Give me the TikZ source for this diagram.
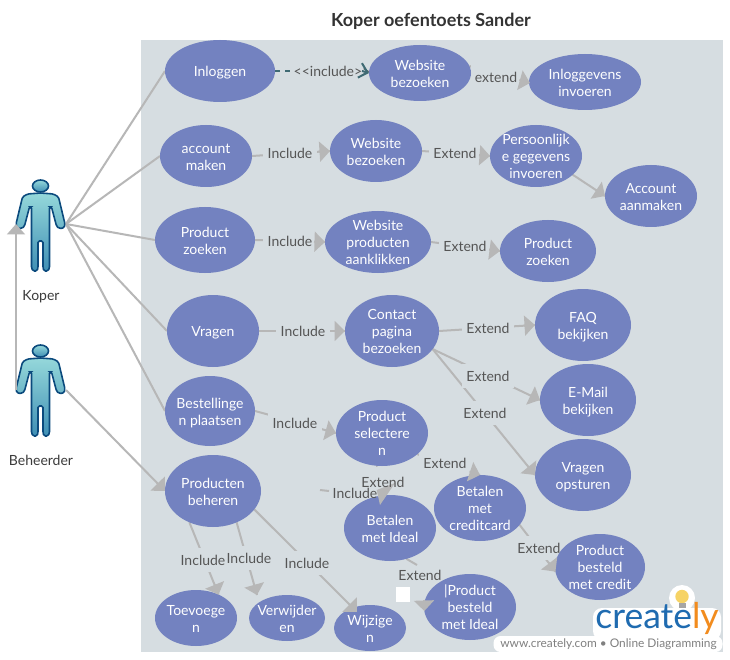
\documentclass[tikz,border=0pt]{standalone}
\usepackage{fontspec}
\setmainfont{Lato}
\usetikzlibrary{arrows.meta,shapes.geometric,calc,backgrounds}
\definecolor{panel}{HTML}{D6DDE1}
\definecolor{ucfill}{HTML}{7382C0}
\definecolor{conn}{HTML}{B7B7B7}
\definecolor{lab}{HTML}{555555}
\definecolor{dashc}{HTML}{3F6A73}
\definecolor{actline}{HTML}{0B4A7D}
\definecolor{acttop}{HTML}{95D8DA}
\definecolor{actbot}{HTML}{3F8FB5}
\definecolor{logob}{HTML}{1F6BB0}
\definecolor{logoo}{HTML}{F28C1E}
\definecolor{bulb}{HTML}{F6D365}
\tikzset{
 every node/.style={font=\fontsize{14}{17}\selectfont},
 ucase/.style={ellipse,fill=ucfill,text=white,inner sep=0pt,outer sep=0pt},
 lblp/.style={text=lab,inner sep=1pt},
 rel/.style={draw=conn,line width=2pt,-{Triangle[length=10.5pt,width=20pt,fill=conn]}},
 plain/.style={draw=conn,line width=2pt},
 actor/.pic={
  \path[top color=acttop,bottom color=actbot,draw=actline,line width=1.6pt]
   (0,-7) ellipse [x radius=8,y radius=6];
  \path[top color=acttop,bottom color=actbot,draw=actline,line width=1.6pt,rounded corners=1.5pt]
   (0,0) -- (13,1) -- (18,4) -- (24.5,31) -- (23.5,35) -- (18.5,35.5) -- (16,33) -- (11,14) -- (9,14)
   -- (9,75) -- (7.5,78) -- (3.5,78) -- (2.5,75) -- (2.5,48) -- (-2.5,48) -- (-2.5,75) -- (-3.5,78) -- (-7.5,78)
   -- (-9,75) -- (-9,14) -- (-11,14) -- (-16,33) -- (-18.5,35.5) -- (-23.5,35) -- (-24.5,31) -- (-18,4) -- (-13,1) -- cycle;
 }
}
\newcommand\UC[6]{\node[ucase,minimum width=#4*2pt,minimum height=#5*2pt] (#1) at (#2,#3)
 {\smash{\makebox[0pt]{\raisebox{-6pt}{\begin{tabular}{@{}c@{}}#6\end{tabular}}}}};}
\newcommand\Lab[4]{\node[lblp] (#1) at (#2,#3) {#4};
 \begin{pgfonlayer}{background}\fill[panel] ($(#1.south west)+(-3,6)$) rectangle ($(#1.north east)+(3,-6)$);\end{pgfonlayer}}
\newcommand\Conn[2]{\begin{pgfonlayer}{background}\draw[plain] (#1) -- (#2);\end{pgfonlayer}}
\newcommand\Head[2]{\draw[rel] ($(#2)!11pt!(#1)$) -- (#2);}
\begin{document}
\begin{tikzpicture}[x=1pt,y=-1pt]
\useasboundingbox (0,0) rectangle (730,660);
\begin{pgfonlayer}{background}
\fill[white] (0,0) rectangle (730,660);
\fill[panel] (141,40) rectangle (723,652);
\end{pgfonlayer}
\node[font=\fontsize{18}{20}\bfseries\selectfont,text=black!80] (title) at (431,21) {Koper oefentoets Sander};

\UC{inl}{220}{71}{55}{31}{Inloggen}
\UC{web}{420}{73}{51}{28}{Website\\bezoeken}
\UC{inv}{585}{82}{56}{28}{Inloggevens\\invoeren}
\UC{acc}{206}{156}{46}{31}{account\\maken}
\UC{webb}{376}{151}{46}{31}{Website\\bezoeken}
\UC{per}{536}{156}{46}{31}{Persoonlijk\\e gegevens\\invoeren}
\UC{aan}{651}{196}{46}{31}{Account\\aanmaken}
\UC{zoe}{205}{240}{50}{33}{Product\\zoeken}
\UC{wpr}{378}{242}{53}{31}{Website\\producten\\aanklikken}
\UC{zoeb}{548}{251}{48}{31}{Product\\zoeken}
\UC{vra}{213}{331}{46}{36}{Vragen}
\UC{con}{392}{331}{47}{36}{Contact\\pagina\\bezoeken}
\UC{faq}{583}{325}{48}{36}{FAQ\\bekijken}
\UC{mail}{588}{400}{48}{36}{E-Mail\\bekijken}
\UC{bes}{210}{411}{45}{35}{Bestellinge\\n plaatsen}
\UC{sel}{382}{433}{46}{33}{Product\\selectere\\n}
\UC{ops}{583}{475}{48}{36}{Vragen\\opsturen}
\UC{beh}{213}{491}{48}{36}{Producten\\beheren}
\UC{cre}{480}{508}{46}{33}{Betalen\\met\\creditcard}
\UC{ide}{390}{528}{46}{33}{Betalen\\met Ideal}
\UC{bcr}{600}{567}{45}{33}{Product\\besteld\\met credit}
\UC{bid}{470}{607}{46}{33}{|Product\\besteld\\met Ideal}
\UC{toe}{196}{618}{41}{28}{Toevoege\\n}
\UC{ver}{287}{618}{38}{23}{Verwijder\\en}
\UC{wij}{370}{628}{36}{23}{Wijzige\\n}

% actors
\pic at (40.5,193) {actor};
\pic at (40.5,358) {actor};
\node[text=lab!70!black] (kop) at (41,297) {Koper};
\node[text=lab!70!black] (bhd) at (41,460) {Beheerder};
\coordinate (kh) at (66,224);
\coordinate (bh) at (66,390);
\coordinate (kl) at (16,224);
\coordinate (bl) at (16,390);
\coordinate (d1) at (291,71);
\coordinate (d2) at (362,71);
\coordinate (invt) at (530,83);
\coordinate (i1) at (320,490);
\coordinate (i2) at (329,491);
\coordinate (s1) at (376,466);
\coordinate (ha) at (376.7,490);
\coordinate (hb) at (395,483);
\coordinate (hc) at (380,505);
\coordinate (e1) at (417,565);
\coordinate (bt) at (424,600);
\coordinate (vt) at (257,595);
\coordinate (wt) at (357,612);

% lines below the ellipses
\Conn{kh}{inl.west}
\Conn{kh}{acc.west}
\Conn{kh}{zoe.west}
\Conn{kh}{vra.west}
\Conn{kh}{bes.west}
\begin{pgfonlayer}{background}
\draw[dashc,line width=2pt,dash pattern=on 5pt off 5pt] (inl.east) -- (d1);
\end{pgfonlayer}
\Conn{web.8}{invt}
\Conn{acc.east}{webb.west}
\Conn{webb.east}{per.west}
\Conn{per.-27}{aan.west}
\Conn{zoe.east}{wpr.west}
\Conn{wpr.east}{zoeb.west}
\Conn{vra.east}{con.west}
\Conn{con.east}{faq.west}
\Conn{con.-24}{mail.west}
\Conn{con.-24}{ops.west}
\Conn{bes.east}{sel.west}
\Conn{sel.-31}{cre.north}
\Conn{cre.-23}{bcr.186}
\Conn{beh.-127}{toe.46}
\Conn{beh.-53}{vt}
\Conn{beh.-24}{wt}
\Conn{i1}{i2}
\Conn{sel.-98}{s1}
\Conn{ide.-62}{e1}

% labels
\node[lblp] (l1) at (332,71) {<{}<include>{}>};
\Lab{l2}{496}{77}{extend}
\Lab{l3}{290}{153}{Include}
\Lab{l4}{455}{153}{Extend}
\Lab{l5}{290}{241}{Include}
\Lab{l6}{465}{246}{Extend}
\Lab{l7}{303}{331}{Include}
\Lab{l8}{488}{328}{Extend}
\Lab{l9}{488}{376}{Extend}
\Lab{l10}{485}{413}{Extend}
\Lab{l11}{295}{423}{Include}
\Lab{l12}{445}{463}{Extend}
\Lab{l15}{539}{548}{Extend}
\Lab{l17}{203}{560}{Include}
\Lab{l18}{249}{558}{Include}
\Lab{l19}{307}{563}{Include}

% arrow heads above the ellipses
\draw[draw=conn,line width=2pt,-{Triangle[length=10.5pt,width=18pt,fill=conn]}] (bl) -- (kl);
\draw[rel] (bh) -- (beh.west);
\draw[dashc,line width=2pt,-{Straight Barb[length=8pt,width=15pt]}] (d2) -- (web.west);
\Head{web.8}{invt}
\Head{acc.east}{webb.west}
\Head{webb.east}{per.west}
\Head{per.-27}{aan.west}
\Head{zoe.east}{wpr.west}
\Head{wpr.east}{zoeb.west}
\Head{vra.east}{con.west}
\Head{con.east}{faq.west}
\Head{con.-24}{mail.west}
\Head{con.-24}{ops.west}
\Head{bes.east}{sel.west}
\Head{sel.-31}{cre.north}
\Head{cre.-23}{bcr.186}
\Head{beh.-127}{toe.46}
\Head{beh.-53}{vt}
\Head{beh.-24}{wt}
\fill[conn] (ha) -- (hb) -- (hc) -- cycle;
\node[lblp] (l13) at (355,493) {Include};
\node[lblp] (l14) at (383,482) {Extend};
\node[lblp] (l16) at (420,575) {Extend};
\draw[rel] (bt) -- (bid.185);
\node[fill=white,inner sep=0pt,minimum size=14.5pt] (sq) at (403,594.5) {};

% logo
\fill[white] (682,598) circle (13);
\fill[white,rounded corners=9pt] (593,608) rectangle (721,640);
\node[fill=white,rounded corners=7pt,inner sep=0pt,minimum width=229pt,minimum height=16pt] (www) at (608,644) {};
\node[text=lab!75,inner sep=0pt,font=\fontsize{11.9}{14}\selectfont] (wwt) at (608.5,644) {www.creately.com • Online Diagramming};
\fill[bulb] (682,596.5) circle (6.7);
\fill[gray!70] (678.5,603) rectangle (685.5,608);
\node[anchor=base,inner sep=0pt,font=\fontsize{35.5}{36}\selectfont,text=logob] (logo) at (657,628) {create\textcolor{logoo}{ly}};
\end{tikzpicture}
\end{document}
